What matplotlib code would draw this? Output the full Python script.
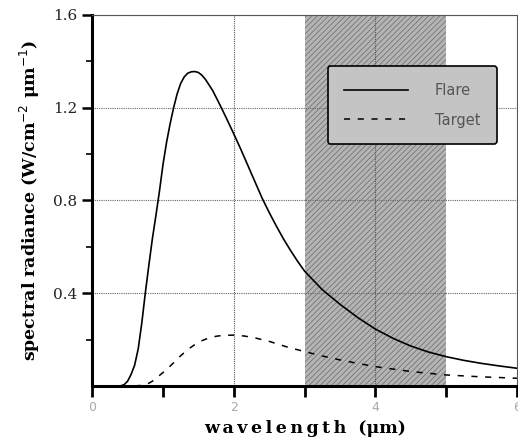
import matplotlib
matplotlib.use("Agg")
import matplotlib.pyplot as plt

flare_x = [0.0, 0.40, 0.45, 0.50, 0.55, 0.60, 0.65, 0.70, 0.75, 0.80, 0.85, 0.90, 0.95, 1.00, 1.05, 1.10, 1.15,
           1.20, 1.25, 1.30, 1.35, 1.40, 1.45, 1.50, 1.55, 1.60, 1.70, 1.80, 1.90, 2.00, 2.10, 2.20, 2.30,
           2.40, 2.50, 2.60, 2.70, 2.80, 2.90, 3.00, 3.25, 3.50, 3.75, 4.00, 4.25, 4.50, 4.75, 5.00, 5.25,
           5.50, 5.75, 6.00]
flare_y = [0.0, 0.0, 0.005, 0.02, 0.05, 0.09, 0.16, 0.27, 0.40, 0.52, 0.635, 0.735, 0.84, 0.955, 1.05, 1.13, 1.20,
           1.26, 1.305, 1.333, 1.349, 1.355, 1.356, 1.352, 1.34, 1.322, 1.275, 1.215, 1.152, 1.087, 1.02, 0.95, 0.88,
           0.81, 0.748, 0.69, 0.635, 0.585, 0.538, 0.495, 0.415, 0.352, 0.295, 0.245, 0.205, 0.172, 0.146, 0.126, 0.110,
           0.097, 0.086, 0.076]

target_x = [0.60, 0.75, 0.85, 0.95, 1.05, 1.15, 1.25, 1.35, 1.45, 1.55, 1.65, 1.75, 1.85, 2.00, 2.15, 2.30,
            2.50, 2.75, 3.00, 3.25, 3.50, 3.75, 4.00, 4.50, 5.00, 5.50, 6.00]
target_y = [0.0, 0.003, 0.02, 0.045, 0.07, 0.10, 0.13, 0.157, 0.178, 0.195, 0.207, 0.214, 0.218, 0.219, 0.215, 0.207,
            0.192, 0.168, 0.148, 0.129, 0.112, 0.097, 0.083, 0.062, 0.047, 0.039, 0.033]

band = [3.0, 5.0]
y_ticks = [0.4, 0.8, 1.2, 1.6]
y_ticklabels = ["0.4", "0.8", "1.2", "1.6"]
x_ticks = [0, 1, 2, 3, 4, 5, 6]
x_ticklabels = ["0", "", "2", "", "4", "", "6"]

plt.rcParams['hatch.linewidth'] = 0.5
plt.rcParams['hatch.color'] = "#6a6a6a"

fig = plt.figure(figsize=(5.18, 4.41), dpi=100)
ax = fig.add_axes([0.178, 0.125, 0.82, 0.841])

ax.axvspan(band[0], band[1], facecolor="#b4b4b4", edgecolor="#6a6a6a", hatch="//////", linewidth=0, zorder=0)

for yv in y_ticks:
    ax.axhline(yv, color="#666666", linestyle=(0, (1, 1)), linewidth=0.8, zorder=1)
for xv in [2, 4]:
    ax.axvline(xv, color="#555555", linestyle=(0, (1, 1)), linewidth=0.8, zorder=1)

ax.plot(flare_x, flare_y, color="black", linewidth=1.2, label="Flare", zorder=3)
ax.plot(target_x, target_y, color="black", linewidth=1.1, linestyle=(0, (4, 5)), label="Target", zorder=3)

ax.set_xlim(0, 6)
ax.set_ylim(0, 1.6)

ax.spines['left'].set_linewidth(2.2)
ax.spines['bottom'].set_linewidth(2.2)
for s in ['top', 'right']:
    ax.spines[s].set_linestyle((0, (1, 1)))
    ax.spines[s].set_linewidth(0.8)
    ax.spines[s].set_color("#555555")

ax.set_yticks(y_ticks)
ax.set_yticklabels(y_ticklabels, family="DejaVu Serif", fontsize=11, color="#222222")
ax.set_yticks([0.2, 0.6, 1.0, 1.4], minor=True)
ax.set_xticks(x_ticks)
ax.set_xticklabels(x_ticklabels, fontsize=9, color="#aaaaaa")
ax.tick_params(axis='y', which='major', direction='out', length=7, width=1.8)
ax.tick_params(axis='y', which='minor', direction='out', length=4, width=1.2)
ax.tick_params(axis='x', which='major', direction='out', length=8, width=2.0, pad=3)

ts = "\u2009"
ax.set_xlabel(ts.join("wavelength") + "  (μm)", family="DejaVu Serif", fontweight="bold", fontsize=12.5, labelpad=4)
ax.set_ylabel("spectral radiance (W/cm$^{-2}$ μm$^{-1}$)", family="DejaVu Serif", fontweight="bold", fontsize=12.5, labelpad=8)

leg = ax.legend(loc="upper left", bbox_to_anchor=(0.554, 0.862), fancybox=True, frameon=True,
                facecolor="#c4c4c4", edgecolor="black", framealpha=1, fontsize=10.5,
                handlelength=4.4, borderpad=1.15, labelspacing=1.0, handletextpad=1.8, borderaxespad=0)
leg.get_frame().set_linewidth(1.2)
for t in leg.get_texts():
    t.set_color("#555555")

fig.savefig("out.png", dpi=100)
